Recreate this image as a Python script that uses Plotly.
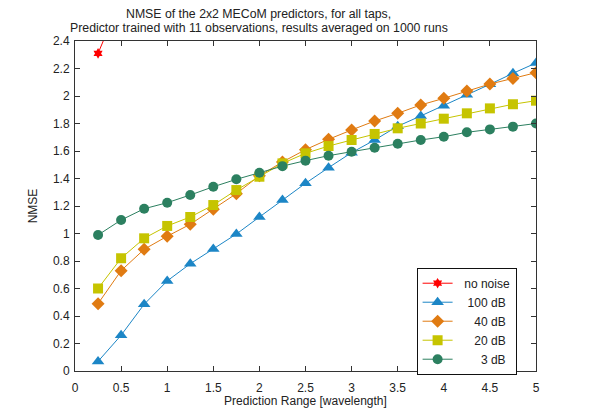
import plotly.graph_objects as go

x = [0.25, 0.5, 0.75, 1.0, 1.25, 1.5, 1.75, 2.0, 2.25, 2.5, 2.75, 3.0, 3.25, 3.5, 3.75, 4.0, 4.25, 4.5, 4.75, 5.0]

x_no_noise = [0.25, 0.5]
no_noise = [2.31, 2.71]

db100 = [0.07, 0.26, 0.485, 0.655, 0.78, 0.887, 0.996, 1.12, 1.244, 1.365, 1.479, 1.588, 1.68, 1.78, 1.855, 1.93, 2.01, 2.085, 2.165, 2.24]
db40 = [0.49, 0.73, 0.885, 0.98, 1.067, 1.176, 1.29, 1.42, 1.52, 1.61, 1.685, 1.753, 1.818, 1.874, 1.935, 1.983, 2.036, 2.087, 2.128, 2.17]
db20 = [0.60, 0.82, 0.965, 1.055, 1.12, 1.207, 1.316, 1.413, 1.51, 1.583, 1.636, 1.68, 1.724, 1.765, 1.80, 1.835, 1.874, 1.91, 1.94, 1.966]
db3 = [0.989, 1.098, 1.18, 1.224, 1.28, 1.34, 1.394, 1.442, 1.49, 1.53, 1.566, 1.595, 1.624, 1.653, 1.68, 1.704, 1.736, 1.757, 1.777, 1.80]

names = ["\u00a0\u00a0no noise", "\u00a0\u00a0\u00a0100 dB", "\u00a0\u00a0\u00a0\u00a0\u00a040 dB",
         "\u00a0\u00a0\u00a0\u00a0\u00a020 dB", "\u00a0\u00a0\u00a0\u00a0\u00a0\u00a0\u00a03 dB"]
title_lines = ["NMSE of the 2x2 MECoM predictors, for all taps,",
               "Predictor trained with 11 observations, results averaged on 1000 runs"]
x_ticks = [0, 0.5, 1, 1.5, 2, 2.5, 3, 3.5, 4, 4.5, 5]
y_ticks = [0, 0.2, 0.4, 0.6, 0.8, 1, 1.2, 1.4, 1.6, 1.8, 2, 2.2, 2.4]

FONT = "Liberation Sans, Arial, sans-serif"
TXT = "#222222"

fig = go.Figure()
series = [
    (x_no_noise, no_noise, names[0], "#FF0000", "hexagram", 8),
    (x, db100, names[1], "#1C86C6", "triangle-up", 11),
    (x, db40, names[2], "#E07B12", "diamond", 10),
    (x, db20, names[3], "#C6C400", "square", 10),
    (x, db3, names[4], "#2C8060", "circle", 10),
]
for xs, ys, name, col, sym, sz in series:
    fig.add_trace(go.Scatter(
        x=xs, y=ys, name=name, mode="lines+markers",
        line=dict(color=col, width=1),
        marker=dict(color=col, symbol=sym, size=sz, line=dict(width=0)),
    ))

axis_common = dict(
    showline=True, linecolor="#333333", linewidth=1, mirror="ticks",
    ticks="inside", ticklen=5, tickcolor="#333333", showgrid=False, zeroline=False,
    tickfont=dict(family=FONT, size=12, color=TXT), automargin=False,
)

for t, yp in zip(title_lines, [1.082, 1.039]):
    fig.add_annotation(text=t, xref="paper", yref="paper", x=0.399, y=yp,
                       xanchor="center", yanchor="middle", showarrow=False,
                       font=dict(family=FONT, size=12.3, color=TXT))

fig.update_layout(
    width=592, height=408,
    margin=dict(l=75, r=56, t=41, b=37),
    paper_bgcolor="white", plot_bgcolor="white",
    font=dict(family=FONT, size=12, color=TXT),
    xaxis=dict(range=[0, 5], tickvals=x_ticks, ticklabelstandoff=6, **axis_common,
               title=dict(text="Prediction Range [wavelength]", standoff=0,
                          font=dict(family=FONT, size=12, color=TXT))),
    yaxis=dict(range=[0, 2.4], tickvals=y_ticks, ticklabelstandoff=2, **axis_common,
               title=dict(text="NMSE", standoff=12,
                          font=dict(family=FONT, size=12, color=TXT))),
    legend=dict(
        x=0.741, y=0.313, xanchor="left", yanchor="top",
        bgcolor="white", bordercolor="#111111", borderwidth=1,
        font=dict(family=FONT, size=12, color=TXT),
        tracegroupgap=0, itemwidth=30,
    ),
    showlegend=True,
)

fig.write_html("out.html")
